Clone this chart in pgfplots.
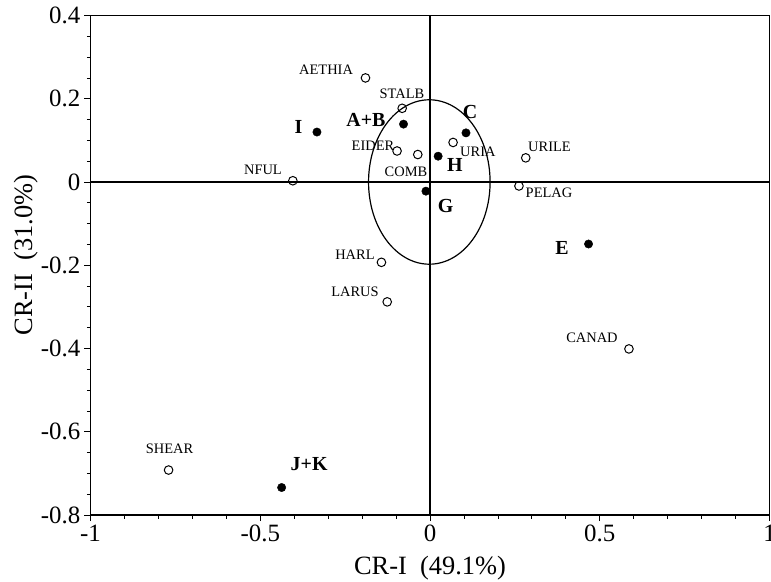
\documentclass[border=0pt]{standalone}
\usepackage{pgfplots}
\usepackage{pgfplotstable}
\pgfplotsset{compat=1.18}
\usepackage{fontspec}
\setmainfont{Liberation Serif}

% species (open) and group (filled) scores on the first two axes
\pgfplotstableread{
x y
-0.190 0.250
-0.082 0.177
0.068 0.095
-0.097 0.0745
-0.036 0.066
0.282 0.058
-0.404 0.003
0.262 -0.0096
-0.143 -0.193
-0.126 -0.288
0.586 -0.401
-0.770 -0.692
}\species
\pgfplotstableread{
x y
-0.333 0.120
-0.078 0.139
0.106 0.118
0.024 0.062
-0.012 -0.022
0.467 -0.149
-0.437 -0.734
}\groups

\newcommand{\splab}[3]{\node[font=\fontsize{14.5}{16}\selectfont,inner sep=0pt] at (axis cs:#1,#2) {#3};}
\newcommand{\grlab}[3]{\node[font=\fontsize{20}{22}\selectfont\bfseries,inner sep=0pt] at (axis cs:#1,#2) {#3};}

\begin{document}
\begin{tikzpicture}
\begin{axis}[
    at={(0,0)}, anchor=south west,
    width=679bp, height=499.5bp, scale only axis,
    xmin=-1, xmax=1, ymin=-0.8, ymax=0.4,
    xtick={-1,-0.5,0,0.5,1}, ytick={-0.8,-0.6,-0.4,-0.2,0,0.2,0.4},
    minor x tick num=4, minor y tick num=3,
    xtick pos=bottom, ytick pos=left,
    tick align=outside,
    major tick length=6bp, minor tick length=3.5bp,
    every tick/.style={black, line width=0.8bp},
    axis line style={line width=1.4bp},
    /pgf/number format/assume math mode=true,
    ticklabel style={font=\fontsize{25}{28}\selectfont, inner sep=0pt},
    yticklabel style={anchor=east, xshift=-4bp},
    xticklabel style={anchor=north, yshift=-4bp},
    xlabel={CR-I\ \ (49.1\%)},
    ylabel={CR-II\ \ (31.0\%)},
    label style={font=\fontsize{26.5}{29}\selectfont},
    xlabel style={at={(axis description cs:0.5,-0.1201)}, anchor=base},
    ylabel style={at={(axis description cs:-0.0861,0.52)}, anchor=base},
    clip=false,
]
\draw[line width=1.2bp] (axis cs:0,-0.8) -- (axis cs:0,0.4);
\draw[line width=1.2bp] (axis cs:-1,0) -- (axis cs:1,0);
\draw[line width=1.2bp] (axis cs:-0.002,0) ellipse [x radius=0.179, y radius=0.1975];

\addplot[only marks, mark=*, mark size=4.2bp, black] table {\groups};
\addplot[only marks, mark=o, mark size=4.3bp, mark options={line width=1bp, fill=white}, black] table {\species};

\splab{-0.306}{0.270}{AETHIA}
\splab{-0.0825}{0.213}{STALB}
\splab{-0.168}{0.0865}{EIDER}
\splab{0.141}{0.072}{URIA}
\splab{-0.0707}{0.0248}{COMB}
\splab{0.352}{0.0849}{URILE}
\splab{-0.492}{0.0288}{NFUL}
\splab{0.3505}{-0.0252}{PELAG}
\splab{-0.221}{-0.174}{HARL}
\splab{-0.221}{-0.264}{LARUS}
\splab{0.477}{-0.375}{CANAD}
\splab{-0.767}{-0.641}{SHEAR}

\grlab{-0.387}{0.132}{I}
\grlab{-0.1885}{0.150}{A+B}
\grlab{0.118}{0.167}{C}
\grlab{0.0736}{0.0397}{H}
\grlab{0.0457}{-0.057}{G}
\grlab{0.389}{-0.159}{E}
\grlab{-0.356}{-0.678}{J+K}
\end{axis}
\pgfresetboundingbox
\path (-90.5bp,-67bp) rectangle (680.5bp,515bp);
\end{tikzpicture}
\end{document}
